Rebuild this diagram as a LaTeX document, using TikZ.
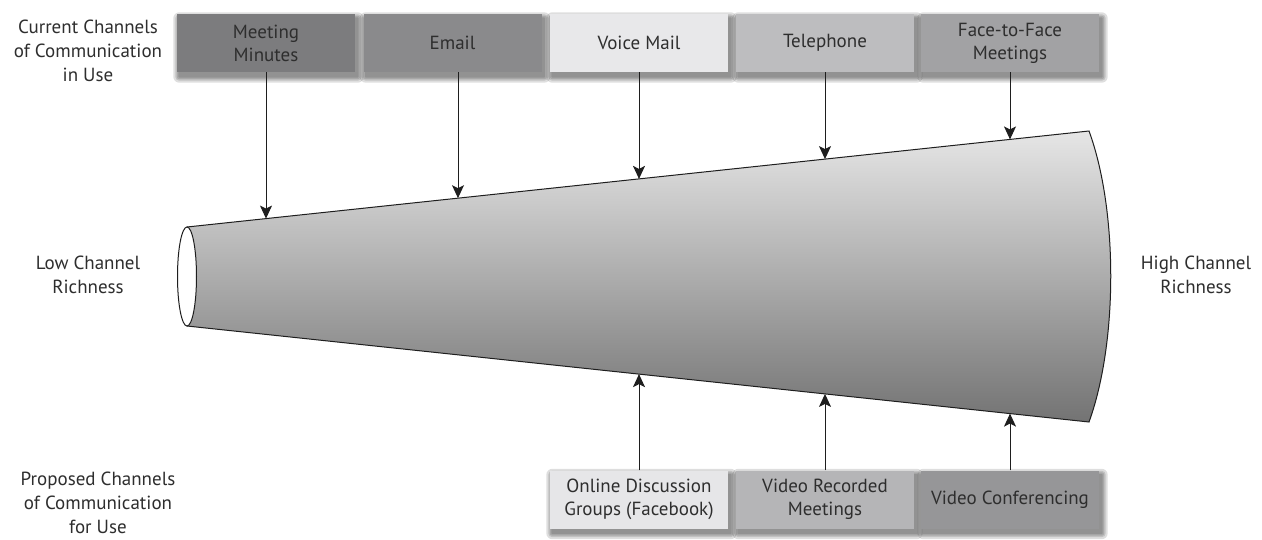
\documentclass[tikz,border=0pt]{standalone}
\usepackage{fontspec}
\setmainfont{PT Sans}
\usetikzlibrary{arrows.meta,calc,backgrounds}

\definecolor{txt}{HTML}{2E2E2E}
\definecolor{edge}{HTML}{1E1E1E}
\definecolor{cMM}{HTML}{7C7C7E}
\definecolor{cEM}{HTML}{8A8A8C}
\definecolor{cVM}{HTML}{E8E8EA}
\definecolor{cTE}{HTML}{BDBDBF}
\definecolor{cFF}{HTML}{A2A2A4}
\definecolor{cOD}{HTML}{E6E6E8}
\definecolor{cVR}{HTML}{B5B5B7}
\definecolor{cVC}{HTML}{969698}
\definecolor{coneTop}{HTML}{E6E6E6}
\definecolor{coneBot}{HTML}{737373}

\tikzset{
  chan/.style={minimum width=178pt, minimum height=58pt, inner sep=0pt,
    align=center, text=txt, font=\fontsize{19}{23}\selectfont},
  side/.style={align=center, text=txt, font=\fontsize{19}{24}\selectfont},
  arr/.style={draw=edge, line width=1pt,
    -{Stealth[length=13pt,width=12pt,inset=3pt]}},
  rim/.style={draw=edge, line width=1pt},
  shadowlayer/.style={fill=black, fill opacity=0.13, rounded corners=#1}
}

\begin{document}
\begin{tikzpicture}[x=1pt, y=1pt]
  \useasboundingbox (0,-539) rectangle (1262,0);

  % cone corners
  \coordinate (ctl) at (187,-227);
  \coordinate (cbl) at (187,-326);
  \coordinate (ctr) at (1089,-131);
  \coordinate (cbr) at (1089,-422);

  % shaded cone body with bulging wide end
  \path[rim, top color=coneTop, bottom color=coneBot]
    (ctl) -- (ctr) .. controls (1118,-210) and (1118,-342) .. (cbr)
    -- (cbl) -- cycle;
  % open narrow end
  \path[rim, fill=white] (187,-276.5) ellipse [x radius=9.5, y radius=49.5];

  % points on the cone edges
  \coordinate (t1) at ($(ctl)!0.0876!(ctr)$);
  \coordinate (t2) at ($(ctl)!0.3004!(ctr)$);
  \coordinate (t3) at ($(ctl)!0.5011!(ctr)$);
  \coordinate (t4) at ($(ctl)!0.7073!(ctr)$);
  \coordinate (t5) at ($(ctl)!0.9124!(ctr)$);
  \coordinate (b3) at ($(cbl)!0.5011!(cbr)$);
  \coordinate (b4) at ($(cbl)!0.7073!(cbr)$);
  \coordinate (b5) at ($(cbl)!0.9124!(cbr)$);

  % current channels
  \node[chan, fill=cMM] (mm) at (266,-43)   {Meeting\\Minutes};
  \node[chan, fill=cEM] (em) at (452.5,-43) {Email};
  \node[chan, fill=cVM] (vm) at (639,-43)   {Voice Mail};
  \node[chan, fill=cTE] (te) at (825,-43)   {Telephone};
  \node[chan, fill=cFF] (ff) at (1010,-43)  {Face-to-Face\\Meetings};

  % proposed channels
  \node[chan, fill=cOD] (od) at (639,-499.5)  {Online Discussion\\Groups (Facebook)};
  \node[chan, fill=cVR] (vr) at (825,-499.5)  {Video Recorded\\Meetings};
  \node[chan, fill=cVC] (vc) at (1010,-499.5) {Video Conferencing};

  % soft drop shadows behind the channel boxes
  \begin{scope}[on background layer]
    \fill[white] (0,-539) rectangle (1262,0);
    \foreach \n in {mm,em,vm,te,ff,od,vr,vc}{
      \foreach \g in {6,4,2.5,1}{
        \fill[shadowlayer=\g pt]
          ([shift={(2.5-\g,-4.5-\g)}]\n.south west)
          rectangle ([shift={(2.5+\g,-4.5+\g)}]\n.north east);
      }
    }
  \end{scope}

  % side labels
  \node[side] (cur)  at (88,-51)    {Current Channels\\of Communication\\in Use};
  \node[side] (low)  at (88,-275)   {Low Channel\\Richness};
  \node[side] (high) at (1196,-275) {High Channel\\Richness};
  \node[side] (prop) at (98,-503)   {Proposed Channels\\of Communication\\for Use};

  % connectors
  \draw[arr] (mm.south) -- (mm.south |- t1);
  \coordinate (emo) at ([xshift=5.5pt]em.south);
  \draw[arr] (emo) -- (emo |- t2);
  \draw[arr] (vm.south) -- (vm.south |- t3);
  \draw[arr] (te.south) -- (te.south |- t4);
  \draw[arr] (ff.south) -- (ff.south |- t5);
  \draw[arr] (od.north) -- (od.north |- b3);
  \draw[arr] (vr.north) -- (vr.north |- b4);
  \draw[arr] (vc.north) -- (vc.north |- b5);
\end{tikzpicture}
\end{document}
